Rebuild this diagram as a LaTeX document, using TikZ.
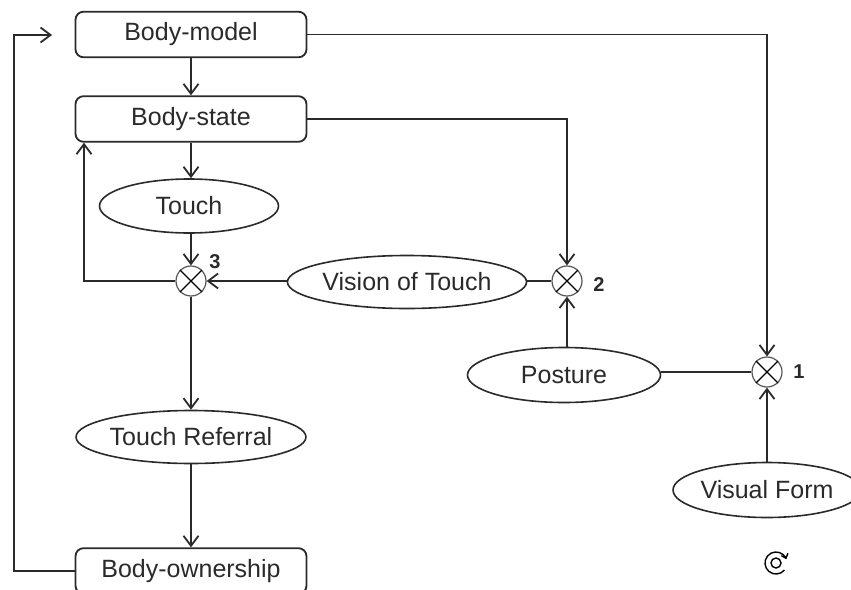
\documentclass[tikz,border=0pt]{standalone}
\usepackage{fontspec}
\setmainfont{Liberation Sans}
\usetikzlibrary{shapes.geometric,arrows.meta,calc}
\definecolor{ink}{HTML}{2A2A2A}
\definecolor{thin}{HTML}{555555}
\tikzset{
  box/.style={draw=ink, line width=0.9pt, rounded corners=4pt, minimum width=115.5pt, minimum height=22.8pt, inner sep=0pt, font=\fontsize{12.5}{14}\selectfont, text=ink},
  oval/.style={ellipse, draw=ink, line width=0.8pt, inner sep=0pt, font=\fontsize{12.5}{14}\selectfont, text=ink},
  junction/.style={circle, draw=thin, line width=0.6pt, minimum size=15pt, inner sep=0pt},
  num/.style={font=\fontsize{10}{11}\selectfont\bfseries, text=ink},
  conn/.style={draw=ink, line width=0.9pt},
  arr/.style={conn, -{Straight Barb[length=5pt,width=7.5pt,line width=0.9pt]}},
}
\newcommand{\xmark}[1]{\draw[thin, line width=0.6pt] (#1.north west) -- (#1.south east) (#1.north east) -- (#1.south west);}
\begin{document}
\begin{tikzpicture}[x=0.5pt,y=-0.5pt]
\useasboundingbox (0,0) rectangle (851,589);
% boxes
\node[box] (bm) at (191,34.5) {Body-model};
\node[box] (bs) at (191,119) {Body-state};
\node[box] (bo) at (191,571) {Body-ownership};
% ellipses
\node[oval, minimum width=89.5pt, minimum height=27pt] (touch) at (189,206) {Touch};
\node[oval, minimum width=100pt, minimum height=26.5pt] (vot) at (407,282) {Vision of Touch};
\node[oval, minimum width=96.5pt, minimum height=27.5pt] (post) at (564,375) {Posture};
\node[oval, minimum width=108.5pt, minimum height=26.5pt] (tr) at (191,437) {Touch Referral};
\node[oval, minimum width=85pt, minimum height=27.5pt] (vf) at (767,490) {Visual Form};
% junctions
\node[junction] (c1) at (767,372) {};
\node[junction] (c2) at (567,281) {};
\node[junction] (c3) at (191,281) {};
\xmark{c1}\xmark{c2}\xmark{c3}
\node[num] at (799,372) {1};
\node[num] at (599,285) {2};
\node[num] at (215,262) {3};
% coordinates
\coordinate (lft) at (14,0);
\coordinate (fbx) at (84,0);
\coordinate (top) at (52,35);
% connectors
\draw[arr] (bm.south) -- (bs.north);
\draw[arr] (bm.east) -| (c1.north);
\draw[arr] (bs.east) -| (c2.north);
\draw[arr] (bs.south) -- (touch.north -| bs.south);
\draw[arr] (touch.south -| c3.north) -- (c3.north);
\draw[arr] (vot.west |- c3.east) -- (c3.east);
\draw[conn] (c2.west) -- (vot.east |- c2.west);
\draw[arr] (c2 |- post.north) -- (c2.south);
\draw[conn] (post.east |- c1.west) -- (c1.west);
\draw[arr] (vf.north) -- (c1.south);
\draw[arr] (c3.west) -| (fbx |- bs.south);
\draw[arr] (c3.south) -- (tr.north);
\draw[arr] (tr.south) -- (bo.north);
\draw[arr] (bo.west) -| (lft |- top) -- (top);
% small rotation icon
\draw[thin, line width=0.7pt] (776,563) circle (5);
\draw[thin, line width=0.7pt, -{Straight Barb[length=2pt,width=3.5pt]}] (776,563) ++(40:11) arc (40:340:11);
\end{tikzpicture}
\end{document}
